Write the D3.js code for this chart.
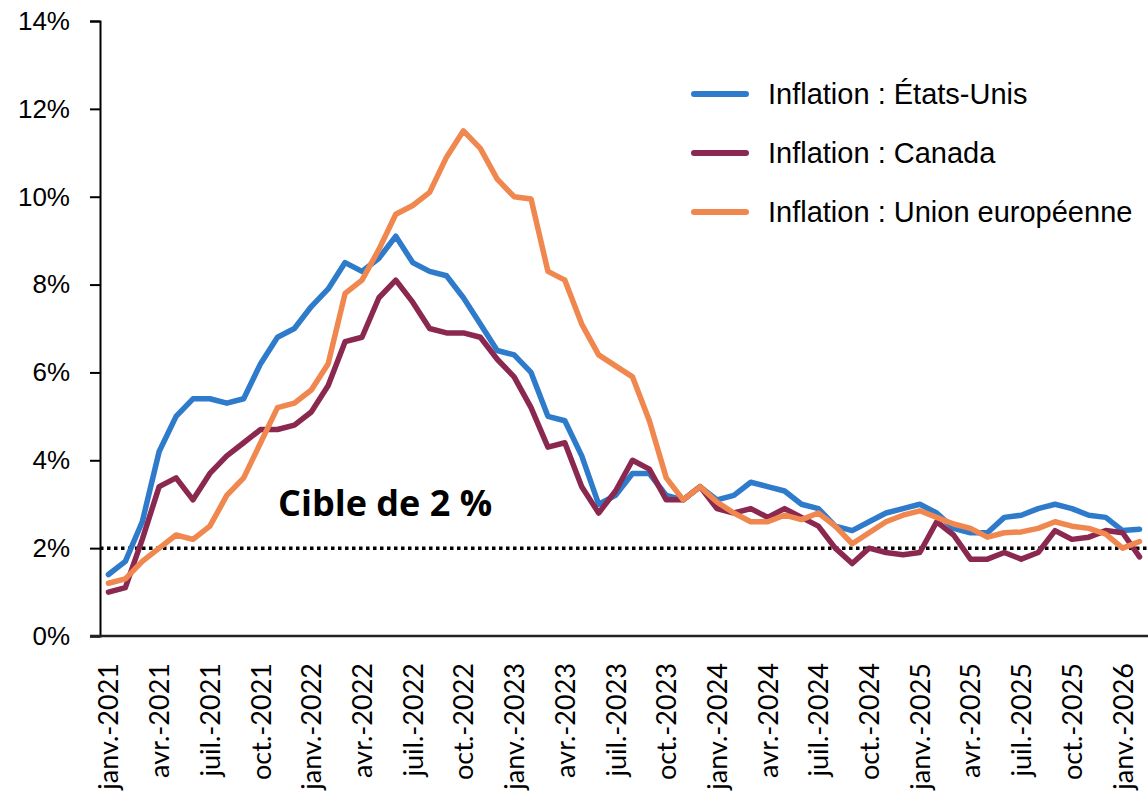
<!DOCTYPE html>
<html>
<head>
<meta charset="utf-8">
<script src="https://cdn.jsdelivr.net/npm/d3@7"></script>
<style>
	body { margin: 0; background: #fff; }
	svg { display: block; }
</style>
</head>
<body>
<svg id="chart" width="1148" height="795"></svg>
<script>
// months jan 2021 -> feb 2026
const monthNames = ['janv.', 'févr.', 'mars', 'avr.', 'mai', 'juin', 'juil.', 'août', 'sept.', 'oct.', 'nov.', 'déc.'];
const months = [];
for (let y = 2021; y <= 2026; y++) {
	for (let m = 0; m < 12; m++) {
		if (y == 2026 && m > 1) break;
		months.push(monthNames[m] + '-' + y);
	}
}

const usInflation = [
	1.4, 1.7, 2.6, 4.2, 5.0, 5.4, 5.4, 5.3, 5.4, 6.2, 6.8, 7.0,
	7.5, 7.9, 8.5, 8.3, 8.6, 9.1, 8.5, 8.3, 8.2, 7.7, 7.1, 6.5,
	6.4, 6.0, 5.0, 4.9, 4.1, 3.0, 3.2, 3.7, 3.7, 3.2, 3.1, 3.4,
	3.1, 3.2, 3.5, 3.4, 3.3, 3.0, 2.9, 2.5, 2.4, 2.6, 2.8, 2.9,
	3.0, 2.8, 2.45, 2.35, 2.35, 2.7, 2.75, 2.9, 3.0, 2.9, 2.75, 2.7,
	2.4, 2.43
];
const canadaInflation = [
	1.0, 1.1, 2.2, 3.4, 3.6, 3.1, 3.7, 4.1, 4.4, 4.7, 4.7, 4.8,
	5.1, 5.7, 6.7, 6.8, 7.7, 8.1, 7.6, 7.0, 6.9, 6.9, 6.8, 6.3,
	5.9, 5.2, 4.3, 4.4, 3.4, 2.8, 3.3, 4.0, 3.8, 3.1, 3.1, 3.4,
	2.9, 2.8, 2.9, 2.7, 2.9, 2.7, 2.5, 2.0, 1.65, 2.0, 1.9, 1.85,
	1.9, 2.6, 2.3, 1.75, 1.75, 1.9, 1.75, 1.9, 2.4, 2.2, 2.25, 2.4,
	2.35, 1.8
];
const euInflation = [
	1.2, 1.3, 1.7, 2.0, 2.3, 2.2, 2.5, 3.2, 3.6, 4.4, 5.2, 5.3,
	5.6, 6.2, 7.8, 8.1, 8.8, 9.6, 9.8, 10.1, 10.9, 11.5, 11.1, 10.4,
	10.0, 9.95, 8.3, 8.1, 7.1, 6.4, 6.15, 5.9, 4.9, 3.6, 3.1, 3.4,
	3.05, 2.8, 2.6, 2.6, 2.75, 2.65, 2.8, 2.5, 2.1, 2.35, 2.6, 2.75,
	2.85, 2.7, 2.55, 2.45, 2.25, 2.35, 2.37, 2.45, 2.6, 2.5, 2.45, 2.32,
	2.0, 2.15
];

const series = [
	{ name: 'Inflation : États-Unis', values: usInflation, color: '#2e7bcb' },
	{ name: 'Inflation : Canada', values: canadaInflation, color: '#8b2850' },
	{ name: 'Inflation : Union européenne', values: euInflation, color: '#ef874f' }
];
const yTicks = [0, 2, 4, 6, 8, 10, 12, 14];
const target = 2;

const svg = d3.select('#chart');
const margin = { top: 21, right: 0, bottom: 159, left: 100 };
const width = 1148, height = 795;

const x = d3.scalePoint()
	.domain(months)
	.range([margin.left, width - margin.right])
	.padding(0.5);

const y = d3.scaleLinear()
	.domain([0, 14])
	.range([height - margin.bottom, margin.top]);

// y axis
const yAxis = svg.append('g')
	.attr('transform', 'translate(' + margin.left + ',0)')
	.call(d3.axisLeft(y).tickValues(yTicks).tickSize(10).tickPadding(20)
		.tickFormat(d => d + '%'));
yAxis.select('.domain').attr('stroke', '#000').attr('stroke-width', 2);
yAxis.selectAll('.tick line').attr('stroke', '#000').attr('stroke-width', 2);
yAxis.selectAll('.tick text')
	.style('font-family', '"Liberation Sans", Arial, sans-serif')
	.style('font-size', '26px')
	.attr('fill', '#000');

// x axis
const xAxis = svg.append('g')
	.attr('transform', 'translate(0,' + y(0) + ')')
	.call(d3.axisBottom(x).tickSize(0).tickSizeOuter(0)
		.tickValues(months.filter((d, i) => i % 3 == 0)));
xAxis.select('.domain')
	.attr('d', 'M' + (margin.left - 10) + ',0H' + width)
	.attr('stroke', '#222').attr('stroke-width', 2.5);
xAxis.selectAll('.tick text')
	.attr('transform', 'rotate(-90)')
	.attr('text-anchor', 'end')
	.attr('x', -27)
	.attr('y', 0)
	.attr('dy', '0.35em')
	.style('font-family', 'Lato, "Open Sans", sans-serif')
	.style('font-size', '27px')
	.attr('fill', '#000');

// target line
svg.append('line')
	.attr('x1', margin.left)
	.attr('x2', width)
	.attr('y1', y(target))
	.attr('y2', y(target))
	.attr('stroke', '#000')
	.attr('stroke-width', 3.5)
	.attr('stroke-dasharray', '3.5,3.5');

svg.append('text')
	.attr('x', 278)
	.attr('y', 516)
	.style('font-family', '"Open Sans", sans-serif')
	.style('font-weight', 'bold')
	.style('font-size', '36px')
	.attr('fill', '#000')
	.text('Cible de 2 %');

// lines
const line = d3.line()
	.x((d, i) => x(months[i]))
	.y(d => y(d));

svg.selectAll('.series')
	.data(series)
	.enter().append('path')
	.attr('class', 'series')
	.attr('d', d => line(d.values))
	.attr('fill', 'none')
	.attr('stroke', d => d.color)
	.attr('stroke-width', 5.5)
	.attr('stroke-linejoin', 'round')
	.attr('stroke-linecap', 'round');

// legend
const legend = svg.append('g')
	.selectAll('g')
	.data(series)
	.enter().append('g')
	.attr('transform', (d, i) => 'translate(694,' + (94 + i * 59) + ')');

legend.append('line')
	.attr('x1', 0).attr('x2', 52)
	.attr('stroke', d => d.color)
	.attr('stroke-width', 6)
	.attr('stroke-linecap', 'round');

legend.append('text')
	.attr('x', 74)
	.attr('dy', '0.35em')
	.style('font-family', '"Liberation Sans", Arial, sans-serif')
	.style('font-size', '29px')
	.attr('fill', '#000')
	.text(d => d.name);
</script>
</body>
</html>
